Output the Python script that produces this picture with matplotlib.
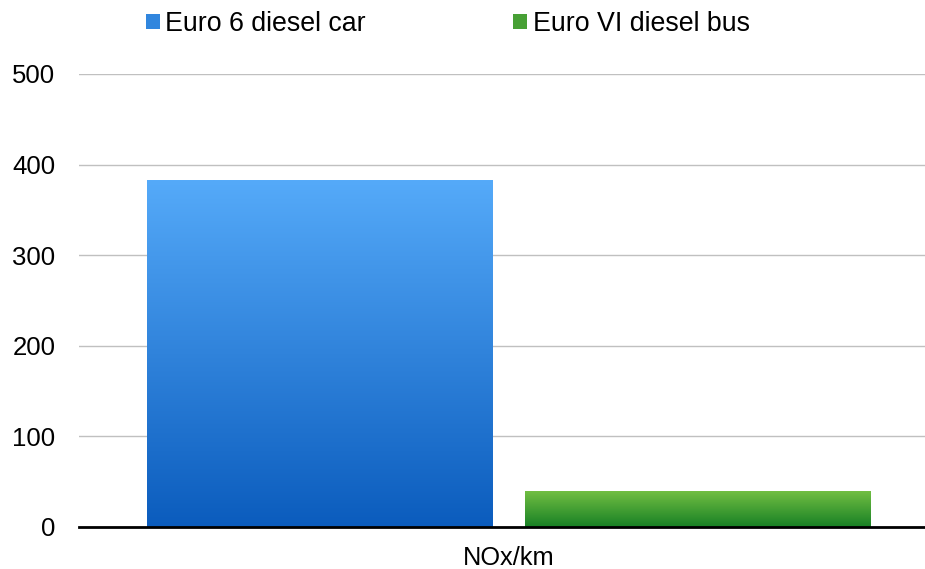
import matplotlib
matplotlib.use('Agg')
from matplotlib import pyplot
from matplotlib.colors import LinearSegmentedColormap
from matplotlib.patches import Patch
import numpy

matplotlib.rcParams['font.family'] = ['Liberation Sans', 'DejaVu Sans']
matplotlib.rcParams['font.size'] = 18.5

category = ['NOx/km']
series = ['Euro 6 diesel car', 'Euro VI diesel bus']
values = [383, 40]
tops = ['#55AAF9', '#74C043']
bottoms = ['#0B5CBD', '#178025']
yticks = [0, 100, 200, 300, 400, 500]

fig = pyplot.figure(figsize=[9.25, 5.69], dpi=100)
ax = fig.add_axes([79/925, 1 - 527/569, 1 - 79/925, (527 - 74)/569])

offsets = [-0.5, 0.5]
width = 0.913
grad = numpy.linspace(0, 1, 256).reshape(-1, 1)
for off, val, top, bot, name in zip(offsets, values, tops, bottoms, series):
    bar = ax.bar(off, val, width=width, color=bot, zorder=2)[0]
    cmap = LinearSegmentedColormap.from_list(name, [bot, top])
    im = ax.imshow(grad, cmap=cmap, aspect='auto', origin='lower',
                   extent=[off - width/2, off + width/2, 0, val], zorder=3)
    im.set_clip_path(bar)

ax.set_xlim(-1.136, 1.102)
ax.set_ylim(0, 500)
ax.set_xticks([0])
ax.set_xticklabels(category, fontsize=18.3)
ax.set_yticks(yticks)
ax.tick_params(length=0)
ax.tick_params(axis='y', pad=17)
ax.tick_params(axis='x', pad=14)
ax.grid(axis='y', color='#C0C0C0', linewidth=1, zorder=0)
ax.set_axisbelow(True)
for s in ['left', 'right', 'top']:
    ax.spines[s].set_visible(False)
ax.spines['bottom'].set_linewidth(2)
ax.spines['bottom'].set_zorder(5)

mid = ['#3186DE', '#47A035']
handles = [Patch(facecolor=c, label=n) for c, n in zip(mid, series)]
fig.legend(handles=handles, loc='center', bbox_to_anchor=(0.484, 0.958), ncol=2,
           frameon=False, handlelength=0.52, handleheight=0.52, handletextpad=0.2,
           columnspacing=5.5, borderaxespad=0, fontsize=19.3)

fig.savefig('out.png', dpi=100)
